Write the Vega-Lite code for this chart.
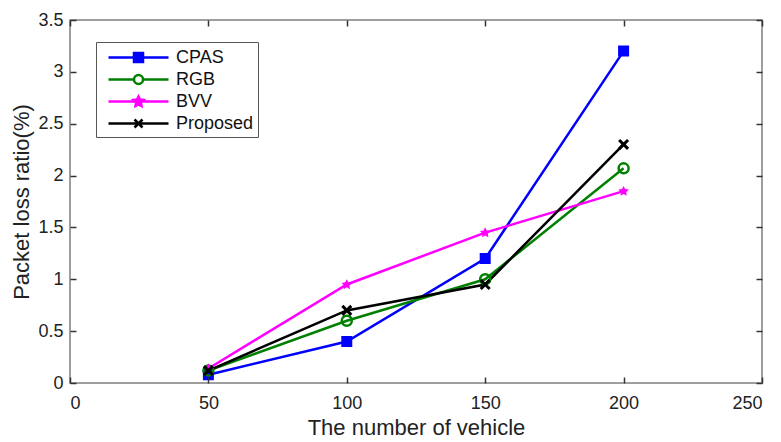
{
  "$schema": "https://vega.github.io/schema/vega-lite/v6.json",
  "width": 692,
  "height": 363,
  "autosize": {"type": "none"},
  "padding": {"left": 70, "top": 20, "right": 19, "bottom": 59},
  "background": "white",
  "config": {
    "view": {"stroke": "#7f7f7f", "strokeWidth": 1.5, "fill": null},
    "font": "Liberation Sans",
    "axis": {
      "grid": false,
      "domain": false,
      "ticks": true,
      "offset": -6,
      "zindex": 2,
      "tickColor": "#333333",
      "tickSize": 6,
      "tickWidth": 1.5,
      "labelFont": "Liberation Sans",
      "labelFontSize": 18,
      "labelColor": "#222222",
      "titleFont": "Liberation Sans",
      "titleFontSize": 22,
      "titleFontWeight": "normal",
      "titleColor": "#222222"
    }
  },
  "data": {
    "values": [
      {"n": 50, "ratio": 0.08, "method": "CPAS"},
      {"n": 100, "ratio": 0.4, "method": "CPAS"},
      {"n": 150, "ratio": 1.2, "method": "CPAS"},
      {"n": 200, "ratio": 3.2, "method": "CPAS"},
      {"n": 50, "ratio": 0.12, "method": "RGB"},
      {"n": 100, "ratio": 0.6, "method": "RGB"},
      {"n": 150, "ratio": 1.0, "method": "RGB"},
      {"n": 200, "ratio": 2.07, "method": "RGB"},
      {"n": 50, "ratio": 0.14, "method": "BVV"},
      {"n": 100, "ratio": 0.95, "method": "BVV"},
      {"n": 150, "ratio": 1.45, "method": "BVV"},
      {"n": 200, "ratio": 1.85, "method": "BVV"},
      {"n": 50, "ratio": 0.12, "method": "Proposed"},
      {"n": 100, "ratio": 0.7, "method": "Proposed"},
      {"n": 150, "ratio": 0.95, "method": "Proposed"},
      {"n": 200, "ratio": 2.3, "method": "Proposed"}
    ]
  },
  "encoding": {
    "x": {"field": "n", "type": "quantitative", "scale": {"domain": [0, 250], "nice": false, "zero": false}, "axis": null},
    "y": {"field": "ratio", "type": "quantitative", "scale": {"domain": [0, 3.5], "nice": false}, "axis": null}
  },
  "layer": [
    {
      "mark": {"type": "line", "strokeWidth": 2.5},
      "encoding": {
        "x": {"field": "n", "type": "quantitative", "title": "The number of vehicle",
          "axis": {"tickCount": 5, "labelPadding": 11, "titlePadding": 5, "zindex": 2}},
        "y": {"field": "ratio", "type": "quantitative", "title": "Packet loss ratio(%)",
          "axis": {"tickCount": 7, "format": "~g", "labelPadding": 7, "titlePadding": 4, "zindex": 2}},
        "color": {
          "field": "method", "type": "nominal",
          "scale": {"domain": ["CPAS", "RGB", "BVV", "Proposed"], "range": ["#0000ff", "#008000", "#ff00ff", "#000000"]},
          "legend": {
            "title": null,
            "orient": "none",
            "legendX": 26,
            "legendY": 22,
            "strokeColor": "#555555",
            "fillColor": "white",
            "padding": 4,
            "labelFontSize": 18,
            "labelFont": "Liberation Sans",
            "labelColor": "#111111",
            "labelExpr": "datum.label + '\u00a0\u00a0\u00a0'",
            "symbolSize": 400,
            "symbolOffset": 27,
            "labelOffset": 26,
            "symbolStrokeWidth": 2.5,
            "rowPadding": 1,
            "encode": {
              "symbols": {
                "update": {
                  "shape": {"signal": "datum.value == 'CPAS' ? 'M-3,0L-0.45,0M0.45,0L3,0M-0.45,-0.45L0.45,-0.45L0.45,0.45L-0.45,0.45Z' : datum.value == 'RGB' ? 'M-3,0L-0.45,0M0.45,0L3,0M0.45,0A0.45,0.45 0 1 1 -0.45,0A0.45,0.45 0 1 1 0.45,0Z' : datum.value == 'BVV' ? 'M-3,0L3,0M0,-0.5L0.15,-0.2L0.5,-0.15L0.25,0.1L0.3,0.45L0,0.28L-0.3,0.45L-0.25,0.1L-0.5,-0.15L-0.15,-0.2Z' : 'M-3,0L3,0M-0.4,-0.4L0.4,0.4M-0.4,0.4L0.4,-0.4'"},
                  "fill": {"signal": "datum.value == 'CPAS' ? '#0000ff' : datum.value == 'BVV' ? '#ff00ff' : 'transparent'"},
                  "fillOpacity": {"value": 1}
                }
              }
            }
          }
        }
      }
    },
    {
      "transform": [{"filter": "datum.method == 'CPAS'"}],
      "mark": {"type": "point", "shape": "square", "filled": true, "color": "#0000ff", "size": 90, "opacity": 1, "stroke": "#0000ff", "strokeWidth": 1.5}
    },
    {
      "transform": [{"filter": "datum.method == 'RGB'"}],
      "mark": {"type": "point", "shape": "circle", "filled": false, "color": "#008000", "size": 100, "opacity": 1, "strokeWidth": 2.5}
    },
    {
      "transform": [{"filter": "datum.method == 'BVV'"}],
      "mark": {"type": "point", "shape": "M0,-1L0.3,-0.4L1,-0.3L0.5,0.2L0.6,0.9L0,0.55L-0.6,0.9L-0.5,0.2L-1,-0.3L-0.3,-0.4Z", "filled": true, "color": "#ff00ff", "size": 110, "opacity": 1}
    },
    {
      "transform": [{"filter": "datum.method == 'Proposed'"}],
      "mark": {"type": "point", "shape": "M-1,-1L1,1M-1,1L1,-1", "filled": false, "color": "#000000", "size": 80, "opacity": 1, "strokeWidth": 3}
    },
    {
      "mark": {"type": "point", "opacity": 0},
      "encoding": {
        "x": {"field": "n", "type": "quantitative", "axis": {"orient": "top", "tickCount": 5, "labels": false, "title": null, "zindex": 2}},
        "y": {"field": "ratio", "type": "quantitative", "axis": {"orient": "right", "tickCount": 7, "labels": false, "title": null, "zindex": 2}}
      }
    }
  ],
  "resolve": {"axis": {"x": "independent", "y": "independent"}}
}
